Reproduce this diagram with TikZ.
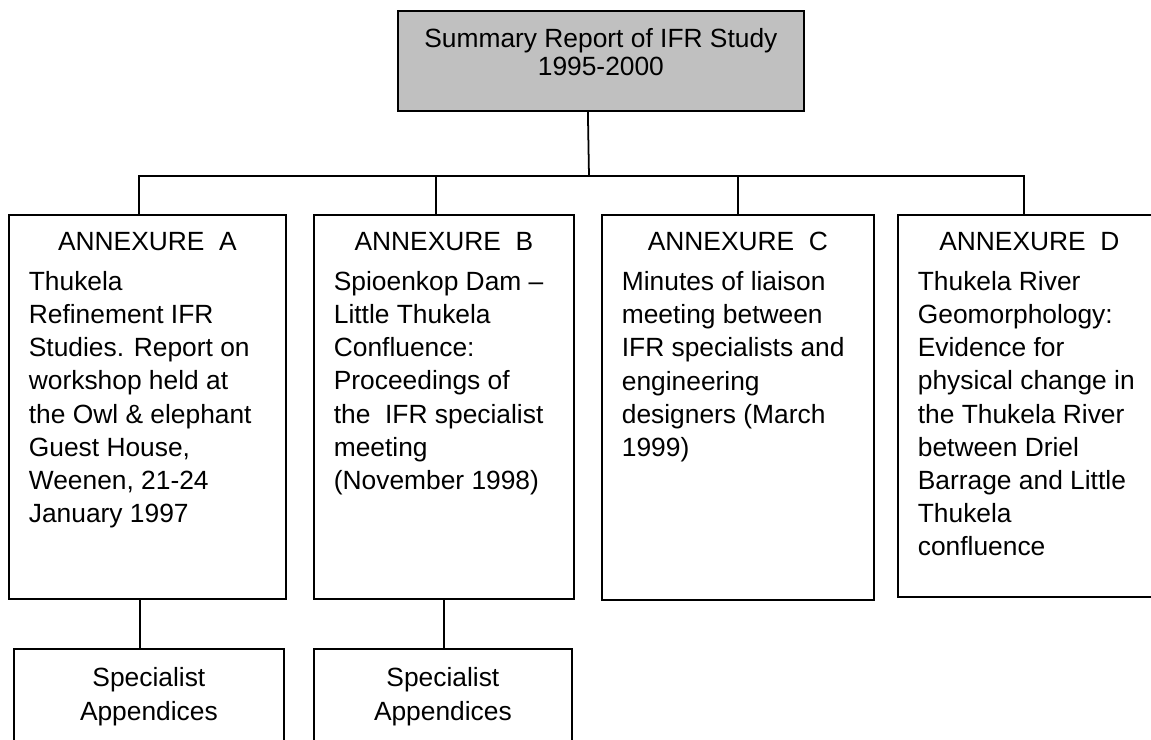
\documentclass[tikz,border=0pt]{standalone}
\usepackage{fontspec}
\setmainfont{Liberation Sans}
\definecolor{reportgray}{RGB}{192,192,192}

\begin{document}
\begin{tikzpicture}[
    box/.style={draw, line width=1pt, anchor=north west, inner xsep=0.4cm, inner ysep=0.34cm,
        font=\fontsize{15pt}{18.9pt}\selectfont},
    link/.style={line width=1pt}]
        \useasboundingbox (0,0) rectangle (23.02,-14.8);
        \node[box, fill=reportgray, inner ysep=0.36cm, font=\fontsize{15pt}{15.6pt}\selectfont] (report) at (7.94,-0.2)
            {\parbox[c][1.28cm][t]{7.32cm}{\centering Summary Report of IFR Study\\ 1995-2000}};
        \coordinate (trunk) at (11.78,-3.52);
        \node[box] (annexA) at (0.16,-4.28)
            {\parbox[c][7.0cm][t]{4.74cm}{\raggedright\makebox[\linewidth]{ANNEXURE\ \ A}\\[4pt]
            Thukela\\ Refinement IFR\\ Studies. Report on\\ workshop held at\\ the Owl \& elephant\\
            Guest House,\\ Weenen, 21-24\\ January 1997}};
        \node[box] (annexB) at (6.26,-4.28)
            {\parbox[c][7.0cm][t]{4.4cm}{\raggedright\makebox[\linewidth]{ANNEXURE\ \ B}\\[4pt]
            Spioenkop Dam --\\ Little Thukela\\ Confluence:\\ Proceedings of\\ the\ \ IFR specialist\\
            meeting\\ (November 1998)}};
        \node[box] (annexC) at (12.02,-4.28)
            {\parbox[c][7.02cm][t]{4.64cm}{\raggedright\makebox[\linewidth]{ANNEXURE\ \ C}\\[4pt]
            Minutes of liaison\\ meeting between\\ IFR specialists and\\ engineering\\
            designers (March\\ 1999)}};
        \node[box] (annexD) at (17.94,-4.28)
            {\parbox[c][6.96cm][t]{4.46cm}{\raggedright\makebox[\linewidth]{ANNEXURE\ \ D}\\[4pt]
            Thukela River\\ Geomorphology:\\ Evidence for\\ physical change in\\ the Thukela River\\
            between Driel\\ Barrage and Little\\ Thukela\\ confluence}};
        \node[box, inner ysep=0.38cm] (appA) at (0.26,-12.96)
            {\parbox[c][1.18cm][t]{4.6cm}{\centering Specialist\\ Appendices}};
        \node[box, inner ysep=0.38cm] (appB) at (6.26,-12.96)
            {\parbox[c][1.18cm][t]{4.36cm}{\centering Specialist\\ Appendices}};
        \draw[link] ([xshift=-0.26cm]report.south) -- (trunk);
        \draw[link] ([xshift=-0.17cm]annexA.north) |- (trunk) -| ([xshift=-0.11cm]annexD.north);
        \draw[link] ([xshift=-0.16cm]annexB.north) -- ([xshift=-0.16cm]annexB.north |- trunk);
        \draw[link] (annexC.north) -- (annexC.north |- trunk);
        \draw[link] ([xshift=-0.15cm]annexA.south) -- ([xshift=-0.15cm]annexA.south |- appA.north);
        \draw[link] (annexB.south) -- (annexB.south |- appB.north);
    \end{tikzpicture}
\end{document}
